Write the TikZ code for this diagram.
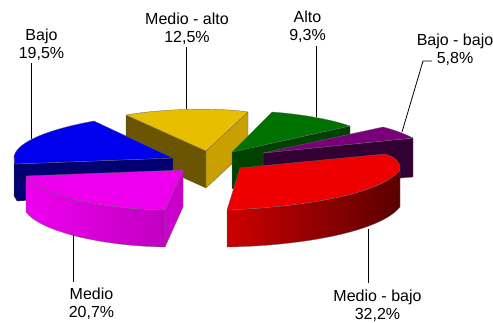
\documentclass[tikz,border=0pt]{standalone}
\usepackage{fontspec}
\setmainfont{Liberation Sans}
\definecolor{goldtop}{HTML}{E8BE00}
\definecolor{goldside}{HTML}{C8A000}
\definecolor{olive}{HTML}{6B5500}
\definecolor{bluetop}{HTML}{0000EE}
\definecolor{navy}{HTML}{000070}
\definecolor{greentop}{HTML}{007200}
\definecolor{greendark}{HTML}{004200}
\definecolor{purpletop}{HTML}{7A007A}
\definecolor{purpledark}{HTML}{330033}
\definecolor{pinktop}{HTML}{EE00EE}
\definecolor{pinkdark}{HTML}{C000C0}
\definecolor{pinkcut}{HTML}{CC00CC}
\definecolor{redtop}{HTML}{EE0000}
\definecolor{redlight}{HTML}{CC0000}
\definecolor{reddark}{HTML}{5A0000}
\begin{document}
\begin{tikzpicture}[x=1pt,y=-1pt,
  face/.style={draw=black!60,line width=0.3pt,line join=round},
  lbl/.style={anchor=north,inner sep=0pt,align=center,font=\fontsize{16}{18.4}\selectfont},
  leader/.style={draw=black,line width=0.8pt}]
\useasboundingbox (0,0) rectangle (493,322);
% Medio - alto (yellow)
\filldraw[face,fill=olive] (126,115) -- (206,151) -- (206,188) -- (126,152) -- cycle;
\filldraw[face,fill=goldside] (206,151) -- (248,112) -- (248,149) -- (206,188) -- cycle;
\filldraw[face,fill=goldtop] (126,115) .. controls (160,109) and (215,107) .. (248,112) -- (206,151) -- cycle;
% Bajo (blue)
\filldraw[face,fill=navy] (14,156) -- (15,164) -- (173,158) -- (173,195) -- (17,201) -- (14,196) -- cycle;
\filldraw[face,fill=bluetop] (173,158) -- (94,121) .. controls (55,128) and (18,140) .. (14,156) -- (15,164) -- cycle;
% Alto (green)
\filldraw[face,fill=greendark] (232,152) -- (350,126) -- (350,163) -- (232,189) -- cycle;
\filldraw[face,fill=greentop] (232,152) -- (272,112) .. controls (300,114) and (330,119) .. (350,126) -- cycle;
% Bajo - bajo (purple)
\filldraw[face,fill=purpledark] (263,153) -- (413,138) -- (413,177) -- (263,190) -- cycle;
\filldraw[face,fill=purpletop] (263,153) -- (383,127) .. controls (395,130) and (405,134) .. (413,138) -- cycle;
% Medio (pink)
\shadedraw[face,left color=pinktop,right color=pinkdark] (26,176) .. controls (40,195) and (100,209) .. (165,210) -- (165,247) .. controls (100,246) and (40,231) .. (26,212) -- cycle;
\filldraw[face,fill=pinkcut] (165,210) -- (183,170) -- (183,207) -- (165,247) -- cycle;
\filldraw[face,fill=pinktop] (183,170) -- (26,176) .. controls (40,195) and (100,209) .. (165,210) -- cycle;
% Medio - bajo (red)
\shadedraw[face,left color=redlight,right color=reddark] (227,210) .. controls (300,207) and (380,195) .. (400,170) -- (400,207) .. controls (380,232) and (300,246) .. (227,247) -- cycle;
\filldraw[face,fill=redtop] (240,168) -- (385,154) .. controls (396,157) and (401,163) .. (400,170) .. controls (380,195) and (300,207) .. (227,210) -- cycle;
% labels
\node[lbl] (lBajo) at (41.5,28.3) {Bajo\\19,5\%};
\node[lbl] (lMalto) at (187,12.7) {Medio - alto\\12,5\%};
\node[lbl] (lAlto) at (307.5,10.7) {Alto\\9,3\%};
\node[lbl] (lBb) at (455,33.3) {Bajo - bajo\\5,8\%};
\node[lbl] (lMedio) at (91.5,287.3) {Medio\\20,7\%};
\node[lbl] (lMbajo) at (377.5,289.5) {Medio - bajo\\32,2\%};
% leader ends
\coordinate (aBajo) at (31,63);   \coordinate (bBajo) at (31,139);
\coordinate (aMalto) at (186,47); \coordinate (bMalto) at (186,109);
\coordinate (aAlto) at (316,46);  \coordinate (bAlto) at (316,117);
\coordinate (aBb) at (432,61);    \coordinate (kBb) at (423,61); \coordinate (bBb) at (402,132);
\coordinate (aMedio) at (73,282); \coordinate (bMedio) at (73,235);
\coordinate (aMbajo) at (368,283); \coordinate (bMbajo) at (368,229);
\draw[leader] (aBajo) -- (bBajo);
\draw[leader] (aMalto) -- (bMalto);
\draw[leader] (aAlto) -- (bAlto);
\draw[leader] (aBb) -- (kBb) -- (bBb);
\draw[leader] (aMedio) -- (bMedio);
\draw[leader] (aMbajo) -- (bMbajo);
\end{tikzpicture}
\end{document}
